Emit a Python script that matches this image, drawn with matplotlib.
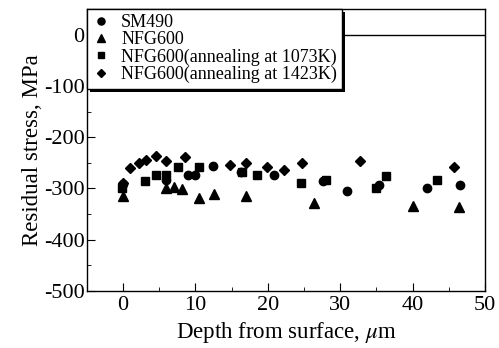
import matplotlib
matplotlib.use("Agg")
import matplotlib.pyplot as plt
from matplotlib.ticker import MultipleLocator
from matplotlib.patches import Rectangle

plt.rcParams['font.family'] = ['Liberation Serif', 'DejaVu Serif']
plt.rcParams['mathtext.fontset'] = 'stix'
plt.rcParams['axes.unicode_minus'] = False

sm490_x = [0, 6.0, 9.0, 9.95, 12.4, 16.3, 20.8, 27.6, 30.9, 35.3, 42.0, 46.6]
sm490_y = [-292, -284, -273, -273, -257, -268, -273, -286, -305, -294, -300, -294]

nfg_x = [0, 5.9, 7.0, 8.1, 10.5, 12.6, 17.0, 26.4, 40.0, 46.4]
nfg_y = [-315, -300, -297, -302, -318, -310, -314, -328, -334, -337]

a1073_x = [-0.1, 3.1, 4.5, 5.9, 7.6, 10.5, 16.4, 18.5, 24.6, 28.1, 35.0, 36.3, 43.3]
a1073_y = [-299, -286, -274, -274, -258, -259, -268, -273, -290, -283, -299, -276, -284]

a1423_x = [0, 1.0, 2.2, 3.2, 4.6, 6.0, 8.6, 14.8, 17.0, 19.9, 22.2, 24.7, 32.7, 45.7]
a1423_y = [-289, -260, -250, -245, -237, -247, -239, -254, -250, -258, -265, -251, -247, -259]

labels = ['SM490', 'NFG600', 'NFG600(annealing at 1073K)', 'NFG600(annealing at 1423K)']

fig = plt.figure(figsize=(4.99, 3.48), dpi=100)
ax = fig.add_axes([0.174, 0.164, 0.798, 0.810])

ax.axhline(0, color='black', lw=1.0, zorder=1)
ax.plot(sm490_x, sm490_y, 'o', color='black', ms=6, label=labels[0], zorder=3)
ax.plot(nfg_x, nfg_y, '^', color='black', ms=7, label=labels[1], zorder=3)
ax.plot(a1073_x, a1073_y, 's', color='black', ms=5.5, label=labels[2], zorder=3)
ax.plot(a1423_x, a1423_y, 'D', color='black', ms=5.2, label=labels[3], zorder=3)

ax.set_xlim(-5, 50)
ax.set_ylim(-500, 50)
ax.xaxis.set_major_locator(MultipleLocator(10))
ax.xaxis.set_minor_locator(MultipleLocator(5))
ax.yaxis.set_major_locator(MultipleLocator(100))
ax.yaxis.set_minor_locator(MultipleLocator(50))
ax.tick_params(which='both', direction='in', top=False, right=False, labelsize=16)
ax.tick_params(axis='y', pad=1.5)
ax.tick_params(axis='x', pad=4)
ax.tick_params(which='major', length=6)
ax.tick_params(which='minor', length=3)
for s in ax.spines.values():
    s.set_linewidth(1.0)

ax.set_xlabel('Depth from surface, $\\mu$m', fontsize=16.5, labelpad=3)
ax.set_ylabel('Residual stress, MPa', fontsize=16.5)
ax.yaxis.set_label_coords(-0.11, 0.5)

leg = ax.legend(loc='upper left', bbox_to_anchor=(0.0, 1.0), borderaxespad=0.0,
                fontsize=13, frameon=True, fancybox=False, shadow=False,
                handlelength=1.0, handletextpad=0.6, labelspacing=0.0,
                borderpad=0.3, edgecolor='black', facecolor='white', framealpha=1.0,
                markerscale=0.85)
leg.get_frame().set_linewidth(1.0)
leg.set_zorder(5)
fig.canvas.draw()
bb = leg.get_window_extent().transformed(fig.transFigure.inverted())
sh = Rectangle((bb.x0 + 3/499, bb.y0 - 3/348), bb.width, bb.height,
               transform=fig.transFigure, facecolor='black', edgecolor='none', zorder=4)
ax.add_artist(sh)
sh.set_clip_on(False)

fig.savefig('out.png', dpi=100)
